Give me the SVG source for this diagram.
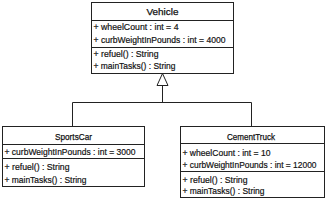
<svg xmlns="http://www.w3.org/2000/svg" width="327" height="200" viewBox="0 0 327 200">
<style>
.box{fill:#fff;stroke:#222;stroke-width:1}
.div{stroke:#222;stroke-width:1}
.t{font-family:"Liberation Sans",Arial,sans-serif;font-size:9.4px;fill:#111;stroke:#111;stroke-width:0.2}
.h{font-family:"Liberation Sans",Arial,sans-serif;font-size:9.4px;fill:#111;stroke:#111;stroke-width:0.25;text-anchor:middle}
.c{fill:none;stroke:#222;stroke-width:1}
</style>
<rect width="327" height="200" fill="#fff"/>
<g id="connectors">
<polyline class="c" points="72.5,126.5 72.5,102.5 251.5,102.5 251.5,126.5"/>
<line class="c" x1="162.5" y1="102.5" x2="162.5" y2="85.5"/>
<polygon points="162.5,73.5 157,85.5 168,85.5" fill="#fff" stroke="#222" stroke-width="1"/>
</g>
<g id="Vehicle">
<rect class="box" x="91.5" y="2.5" width="142" height="71"/>
<line class="div" x1="91.5" y1="20.5" x2="233.5" y2="20.5"/>
<line class="div" x1="91.5" y1="47.5" x2="233.5" y2="47.5"/>
<text class="h" x="162.5" y="15" textLength="32" lengthAdjust="spacingAndGlyphs">Vehicle</text>
<text class="t" x="93.5" y="30" textLength="85" lengthAdjust="spacingAndGlyphs">+ wheelCount : int = 4</text>
<text class="t" x="93.5" y="43" textLength="132" lengthAdjust="spacingAndGlyphs">+ curbWeightInPounds : int = 4000</text>
<text class="t" x="93.5" y="56.5" textLength="65" lengthAdjust="spacingAndGlyphs">+ refuel() : String</text>
<text class="t" x="93.5" y="69" textLength="82" lengthAdjust="spacingAndGlyphs">+ mainTasks() : String</text>
</g>
<g id="SportsCar">
<rect class="box" x="2.5" y="126.5" width="142" height="60"/>
<line class="div" x1="2.5" y1="144.5" x2="144.5" y2="144.5"/>
<line class="div" x1="2.5" y1="158.5" x2="144.5" y2="158.5"/>
<text class="h" x="73.5" y="139.5" textLength="37" lengthAdjust="spacingAndGlyphs">SportsCar</text>
<text class="t" x="4.5" y="155" textLength="131" lengthAdjust="spacingAndGlyphs">+ curbWeightInPounds : int = 3000</text>
<text class="t" x="4.5" y="170" textLength="65" lengthAdjust="spacingAndGlyphs">+ refuel() : String</text>
<text class="t" x="4.5" y="182.5" textLength="82" lengthAdjust="spacingAndGlyphs">+ mainTasks() : String</text>
</g>
<g id="CementTruck">
<rect class="box" x="180.5" y="126.5" width="144" height="71"/>
<line class="div" x1="180.5" y1="143.5" x2="324.5" y2="143.5"/>
<line class="div" x1="180.5" y1="171.5" x2="324.5" y2="171.5"/>
<text class="h" x="251" y="139.5" textLength="48" lengthAdjust="spacingAndGlyphs">CementTruck</text>
<text class="t" x="182.5" y="155.5" textLength="88" lengthAdjust="spacingAndGlyphs">+ wheelCount : int = 10</text>
<text class="t" x="182.5" y="167.5" textLength="134" lengthAdjust="spacingAndGlyphs">+ curbWeightInPounds : int = 12000</text>
<text class="t" x="182.5" y="182.5" textLength="65" lengthAdjust="spacingAndGlyphs">+ refuel() : String</text>
<text class="t" x="182.5" y="194" textLength="82" lengthAdjust="spacingAndGlyphs">+ mainTasks() : String</text>
</g>
</svg>
